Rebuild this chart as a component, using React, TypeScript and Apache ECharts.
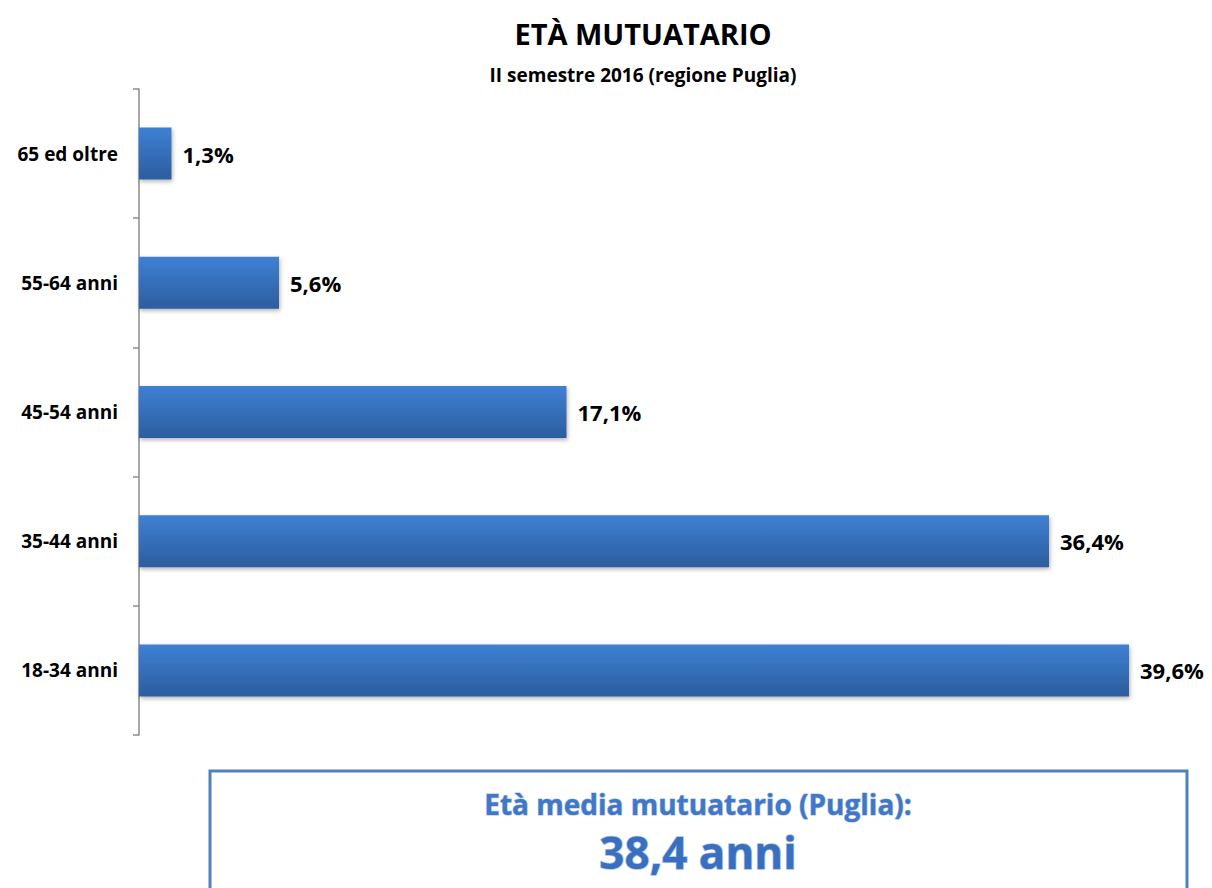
import React, { useEffect, useRef } from "react";
import * as echarts from "echarts";

const categories = ["18-34 anni", "35-44 anni", "45-54 anni", "55-64 anni", "65 ed oltre"];
const values = [39.6, 36.4, 17.1, 5.6, 1.3];
const titleText = "ETÀ MUTUATARIO";
const subtitleText = "II semestre 2016 (regione Puglia)";
const boxLine1 = "Età media mutuatario (Puglia):";
const boxLine2 = "38,4 anni";

const FONT = "'Open Sans', 'Noto Sans', sans-serif";

export default function App() {
  const ref = useRef<HTMLDivElement>(null);
  useEffect(() => {
    if (!ref.current) return;
    const chart = echarts.init(ref.current, null, { renderer: "svg" });
    chart.setOption({
      animation: false,
      backgroundColor: "#ffffff",
      graphic: [
        {
          type: "text",
          x: 643,
          y: 33,
          style: {
            text: titleText,
            fill: "#000",
            font: `bold 29px ${FONT}`,
            align: "center",
            verticalAlign: "middle",
          },
        },
        {
          type: "text",
          x: 643,
          y: 75,
          style: {
            text: subtitleText,
            fill: "#000",
            font: `bold 19px ${FONT}`,
            align: "center",
            verticalAlign: "middle",
          },
        },
        {
          type: "rect",
          shape: { x: 210, y: 771, width: 977, height: 140 },
          style: { fill: "#ffffff", stroke: "#4f81bd", lineWidth: 3 },
        },
        {
          type: "text",
          x: 698,
          y: 804,
          style: {
            text: boxLine1,
            fill: "#4277c6",
            stroke: "#a9c5ea",
            lineWidth: 1.2,
            font: `bold 28px ${FONT}`,
            align: "center",
            verticalAlign: "middle",
            shadowColor: "rgba(0,0,0,0.35)",
            shadowBlur: 3,
            shadowOffsetY: 2,
          },
        },
        {
          type: "text",
          x: 698,
          y: 852,
          style: {
            text: boxLine2,
            fill: "#3a6fc0",
            stroke: "#a9c5ea",
            lineWidth: 1.5,
            font: `bold 44px ${FONT}`,
            align: "center",
            verticalAlign: "middle",
            shadowColor: "rgba(0,0,0,0.35)",
            shadowBlur: 3,
            shadowOffsetY: 2,
          },
        },
      ],
      grid: { left: 139, top: 89, width: 1000, height: 646, containLabel: false },
      xAxis: {
        type: "value",
        min: 0,
        max: 40,
        show: false,
      },
      yAxis: {
        type: "category",
        data: categories,
        boundaryGap: true,
        axisLine: { show: true, lineStyle: { color: "#8c8c8c", width: 1.5 } },
        axisTick: { show: true, length: 6, lineStyle: { color: "#8c8c8c", width: 1.5 } },
        axisLabel: {
          margin: 21,
          fontFamily: FONT,
          fontWeight: "bold",
          fontSize: 19,
          color: "#000",
        },
        splitLine: { show: false },
      },
      series: [
        {
          type: "bar",
          data: values,
          barWidth: 52,
          itemStyle: {
            color: new echarts.graphic.LinearGradient(0, 0, 0, 1, [
              { offset: 0, color: "#3e80d4" },
              { offset: 1, color: "#2c5d9e" },
            ]),
            shadowColor: "rgba(0,0,0,0.3)",
            shadowBlur: 4,
            shadowOffsetX: 1,
            shadowOffsetY: 2,
          },
          label: {
            show: true,
            position: "right",
            distance: 11,
            formatter: (p: any) => p.value.toFixed(1).replace(".", ",") + "%",
            fontFamily: FONT,
            fontWeight: "bold",
            fontSize: 22,
            color: "#000",
          },
        },
      ],
    });
    return () => chart.dispose();
  }, []);
  return (
    <div
      ref={ref}
      style={{ position: "absolute", left: 0, top: 0, width: 1212, height: 888 }}
    />
  );
}
